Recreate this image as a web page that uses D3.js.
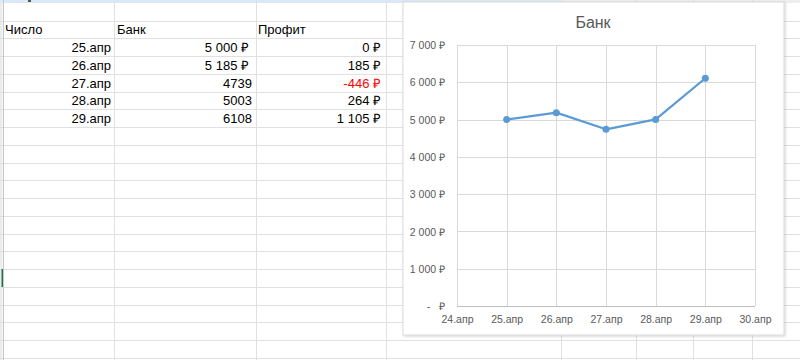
<!DOCTYPE html>
<html><head><meta charset="utf-8">
<script src="https://cdn.jsdelivr.net/npm/d3@7"></script>
<style>
html,body{margin:0;padding:0;background:#fff;overflow:hidden}
svg text{white-space:pre}
</style></head>
<body>
<svg id="c" width="800" height="360"></svg>
<script>
// ---- data ----
const tableHeaders = ["Число", "Банк", "Профит"];
const dates = ["25.апр", "26.апр", "27.апр", "28.апр", "29.апр"];
const bankValues = [5000, 5185, 4739, 5003, 6108];
const bankFormats = ["currency", "currency", "plain", "plain", "plain"];
const profitValues = [0, 185, -446, 264, 1105];
const xCategories = ["24.апр", "25.апр", "26.апр", "27.апр", "28.апр", "29.апр", "30.апр"];
const yTicks = [0, 1000, 2000, 3000, 4000, 5000, 6000, 7000];
const chartTitle = "Банк";

const svg = d3.select("#c");
const FONT = "'Liberation Sans', Arial, sans-serif";

// ---- spreadsheet grid ----
const rowTop = 20.5, rowH = 17.75;
const colLines = [3, 114, 256, 386, 561, 636, 693, 752];
// top band
svg.append("rect").attr("x",0).attr("y",0).attr("width",560).attr("height",3).attr("fill","#dbe8f5");
svg.append("rect").attr("x",560).attr("y",0).attr("width",240).attr("height",3).attr("fill","#eeeeee");
svg.append("rect").attr("x",28).attr("y",0).attr("width",3).attr("height",2).attr("fill","#555");
// left header edge
svg.append("rect").attr("x",0).attr("y",3).attr("width",2.5).attr("height",357).attr("fill","#ececec");
const g = svg.append("g");
for (let y = rowTop; y < 360; y += rowH) {
  g.append("line").attr("x1",0).attr("x2",800).attr("y1",Math.round(y)+0.5).attr("y2",Math.round(y)+0.5)
    .attr("stroke","#e0e0e0").attr("stroke-width",1);
}
colLines.forEach(x => {
  g.append("line").attr("x1",x+0.5).attr("x2",x+0.5).attr("y1",0).attr("y2",360)
    .attr("stroke", x===3 ? "#c8c8c8" : "#e0e0e0").attr("stroke-width",1);
});
// active-cell marker
svg.append("rect").attr("x",1.5).attr("y",269).attr("width",1.5).attr("height",18).attr("fill","#217346");

// ---- table ----
const t = svg.append("g").attr("font-family",FONT).attr("font-size",13).attr("fill","#000");
const hdrX = [5, 117, 258];
tableHeaders.forEach((h,i)=> t.append("text").attr("x",hdrX[i]).attr("y",rowTop+rowH-4).text(h));
const fmtSpace = v => d3.format(",")(v).replace(/,/g," ");
dates.forEach((d,i)=>{
  const yb = rowTop + rowH*(i+2) - 4;
  t.append("text").attr("x",111).attr("y",yb).attr("text-anchor","end").text(d);
  const bt = bankFormats[i]==="currency" ? fmtSpace(bankValues[i])+" ₽" : String(bankValues[i]);
  t.append("text").attr("x", bankFormats[i]==="currency" ? 249 : 252).attr("y",yb).attr("text-anchor","end").text(bt);
  const pv = profitValues[i];
  t.append("text").attr("x",381).attr("y",yb).attr("text-anchor","end")
    .attr("fill", pv<0 ? "#ff0000" : "#000")
    .text((pv<0?"-":"")+fmtSpace(Math.abs(pv))+" ₽");
});

// ---- chart ----
const cx0=403, cy0=2, cx1=784, cy1=335;
const defs = svg.append("defs");
const f = defs.append("filter").attr("id","sh").attr("x","-5%").attr("y","-5%").attr("width","110%").attr("height","110%");
f.append("feDropShadow").attr("dx",1).attr("dy",1).attr("stdDeviation",1.2).attr("flood-color","#000").attr("flood-opacity",0.18);
svg.append("rect").attr("x",cx0).attr("y",cy0).attr("width",cx1-cx0).attr("height",cy1-cy0)
  .attr("fill","#fff").attr("stroke","#d9d9d9").attr("stroke-width",1).attr("filter","url(#sh)");

svg.append("text").attr("x",593).attr("y",28).attr("text-anchor","middle")
  .attr("font-family",FONT).attr("font-size",16).attr("fill","#595959").text(chartTitle);

const x = d3.scalePoint().domain(xCategories).range([457,755]);
const y = d3.scaleLinear().domain([0,7000]).range([306,45]);

const plot = svg.append("g");
// horizontal grid
plot.selectAll(".hg").data(yTicks.filter(v=>v>0)).enter().append("line")
  .attr("x1",x.range()[0]).attr("x2",x.range()[1])
  .attr("y1",d=>Math.round(y(d))+0.5).attr("y2",d=>Math.round(y(d))+0.5)
  .attr("stroke","#d9d9d9").attr("stroke-width",1);
// vertical grid
plot.selectAll(".vg").data(xCategories).enter().append("line")
  .attr("x1",d=>Math.round(x(d))+0.5).attr("x2",d=>Math.round(x(d))+0.5)
  .attr("y1",y(7000)).attr("y2",y(0))
  .attr("stroke","#d9d9d9").attr("stroke-width",1);
// x axis line
plot.append("line").attr("x1",x.range()[0]).attr("x2",x.range()[1])
  .attr("y1",Math.round(y(0))+0.5).attr("y2",Math.round(y(0))+0.5).attr("stroke","#bfbfbf");

// y axis labels
const yAxis = d3.axisLeft(y).tickValues(yTicks).tickSize(0).tickPadding(0)
  .tickFormat(v => v===0 ? "-   ₽" : fmtSpace(v)+" ₽");
const ya = svg.append("g").attr("transform","translate(445,0)").call(yAxis);
ya.select(".domain").remove();
ya.selectAll("text").attr("font-family",FONT).attr("font-size",10.5).attr("fill","#595959").attr("dy","0.35em");

// x axis labels
const xAxis = d3.axisBottom(x).tickSize(0).tickPadding(0);
const xa = svg.append("g").attr("transform",`translate(0,${y(0)+10})`).call(xAxis);
xa.select(".domain").remove();
xa.selectAll("text").attr("font-family",FONT).attr("font-size",10.5).attr("fill","#595959").attr("dy","0.71em");

// line series
const pts = dates.map((d,i)=>({d, v:bankValues[i]}));
svg.append("path").datum(pts)
  .attr("d", d3.line().x(p=>x(p.d)).y(p=>y(p.v)))
  .attr("fill","none").attr("stroke","#5b9bd5").attr("stroke-width",2.25).attr("stroke-linejoin","round");
svg.selectAll(".pt").data(pts).enter().append("circle")
  .attr("cx",p=>x(p.d)).attr("cy",p=>y(p.v)).attr("r",3.5).attr("fill","#5b9bd5");
</script>
</body></html>
